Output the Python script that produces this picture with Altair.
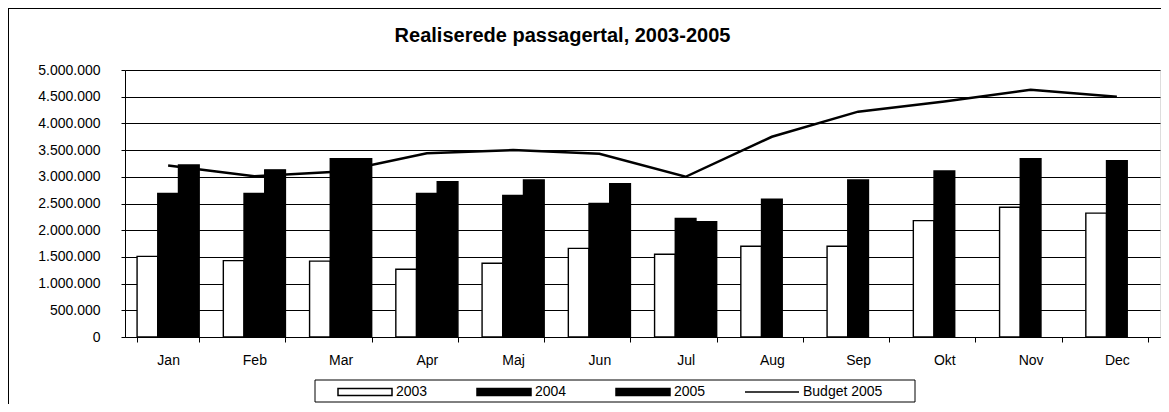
import altair as alt
import pandas as pd

months = ["Jan", "Feb", "Mar", "Apr", "Maj", "Jun", "Jul", "Aug", "Sep", "Okt", "Nov", "Dec"]
series_bars = ["2003", "2004", "2005"]
series_line = ["Budget 2005"]

p2003 = [1510000, 1430000, 1420000, 1270000, 1380000, 1660000, 1550000, 1700000, 1700000, 2180000, 2430000, 2320000]
p2004 = [2690000, 2690000, 3340000, 2690000, 2650000, 2500000, 2220000, 2580000, 2940000, 3110000, 3340000, 3300000]
p2005 = [3220000, 3130000, 3340000, 2910000, 2940000, 2870000, 2160000, None, None, None, None, None]
budget2005 = [3210000, 3010000, 3100000, 3440000, 3500000, 3430000, 3000000, 3750000, 4220000, 4410000, 4630000, 4500000]

y_ticks = [0, 500000, 1000000, 1500000, 2000000, 2500000, 3000000, 3500000, 4000000, 4500000, 5000000]

rows = []
for name, vals in zip(series_bars, [p2003, p2004, p2005]):
    for m, v in zip(months, vals):
        if v is not None:
            rows.append({"month": m, "series": name, "value": v})
bar_df = pd.DataFrame(rows)
line_df = pd.DataFrame({"month": months, "series": series_line[0], "value": budget2005})
one = pd.DataFrame({"k": [0]})

FONT = "Liberation Sans"
W, H = 1035, 267
PAD_L, PAD_T, PAD_B = 117, 62, 67
SWATCH = "M-1,-0.13H1V0.13H-1Z"

x_axis = alt.Axis(
    title=None,
    labelAngle=0,
    tickBand="extent",
    tickSize=5,
    tickColor="#000000",
    domainColor="#000000",
    labelPadding=11,
    labelFont=FONT,
    labelFontSize=14,
    labelColor="#000000",
    grid=False,
)
x_scale = alt.Scale(domain=months, paddingInner=0.28, paddingOuter=0.14)

y_axis = alt.Axis(
    title=None,
    values=y_ticks,
    tickCount=20,
    labelExpr="replace(format(datum.value, ','), regexp(',', 'g'), '.')",
    labelOverlap=False,
    grid=True,
    gridColor="#000000",
    gridOpacity=1,
    gridWidth=1,
    tickSize=4,
    tickColor="#000000",
    domainColor="#000000",
    labelPadding=21,
    labelFont=FONT,
    labelFontSize=14,
    labelColor="#000000",
)
y_scale = alt.Scale(domain=[0, 5000000], nice=False)

bars = alt.Chart(bar_df).mark_bar(stroke="#000000", strokeWidth=1.4, opacity=1).encode(
    x=alt.X("month:N", sort=months, scale=x_scale, axis=x_axis),
    xOffset=alt.XOffset("series:N", scale=alt.Scale(domain=series_bars, paddingInner=0, paddingOuter=0)),
    y=alt.Y("value:Q", scale=y_scale, axis=y_axis),
    fill=alt.Fill(
        "series:N",
        scale=alt.Scale(domain=series_bars, range=["#ffffff", "#000000", "#000000"]),
        legend=alt.Legend(
            title=None,
            orient="none",
            legendX=212,
            legendY=294,
            direction="horizontal",
            columns=3,
            columnPadding=46,
            symbolSize=2916,
            symbolType=SWATCH,
            symbolStrokeWidth=1.5,
            symbolStrokeColor="#000000",
            symbolOpacity=1,
            labelFont=FONT,
            labelFontSize=14,
            labelColor="#000000",
            labelOffset=3,
            padding=0,
        ),
    ),
)

line = alt.Chart(line_df).mark_line(strokeWidth=2.5).encode(
    x=alt.X("month:N", sort=months, scale=x_scale, axis=x_axis),
    y=alt.Y("value:Q", scale=y_scale, axis=y_axis),
    stroke=alt.Stroke(
        "series:N",
        scale=alt.Scale(domain=series_line, range=["#000000"]),
        legend=alt.Legend(
            title=None,
            orient="none",
            legendX=619,
            legendY=294,
            symbolSize=2916,
            symbolType="stroke",
            symbolStrokeWidth=1.5,
            labelFont=FONT,
            labelFontSize=14,
            labelColor="#000000",
            labelOffset=3,
            padding=0,
        ),
    ),
)

legend_box = alt.Chart(one).mark_rect(fillOpacity=0, stroke="#000000", strokeWidth=1).encode(
    x=alt.value(190), x2=alt.value(790), y=alt.value(310), y2=alt.value(332)
)

frame_left = alt.Chart(one).mark_rule(color="#000000", strokeWidth=1).encode(
    x=alt.value(-PAD_L + 0.5), y=alt.value(-PAD_T), y2=alt.value(H + PAD_B)
)
frame_top = alt.Chart(one).mark_rule(color="#000000", strokeWidth=1).encode(
    x=alt.value(-PAD_L), x2=alt.value(W + 1), y=alt.value(-PAD_T + 0.5)
)

chart = alt.layer(bars, line, legend_box, frame_left, frame_top).properties(
    width=W,
    height=H,
    autosize=alt.AutoSizeParams(type="none"),
    padding={"left": PAD_L, "top": PAD_T, "right": 1, "bottom": PAD_B},
    title=alt.TitleParams(
        "Realiserede passagertal, 2003-2005",
        font=FONT,
        fontSize=20,
        fontWeight="bold",
        color="#000000",
        anchor="middle",
        frame="group",
        dx=-80,
        offset=-38,
    ),
).configure_view(stroke="#000000", strokeWidth=1).configure(background="#ffffff")

chart.save("out.html", embed_options={"renderer": "svg", "actions": False})
